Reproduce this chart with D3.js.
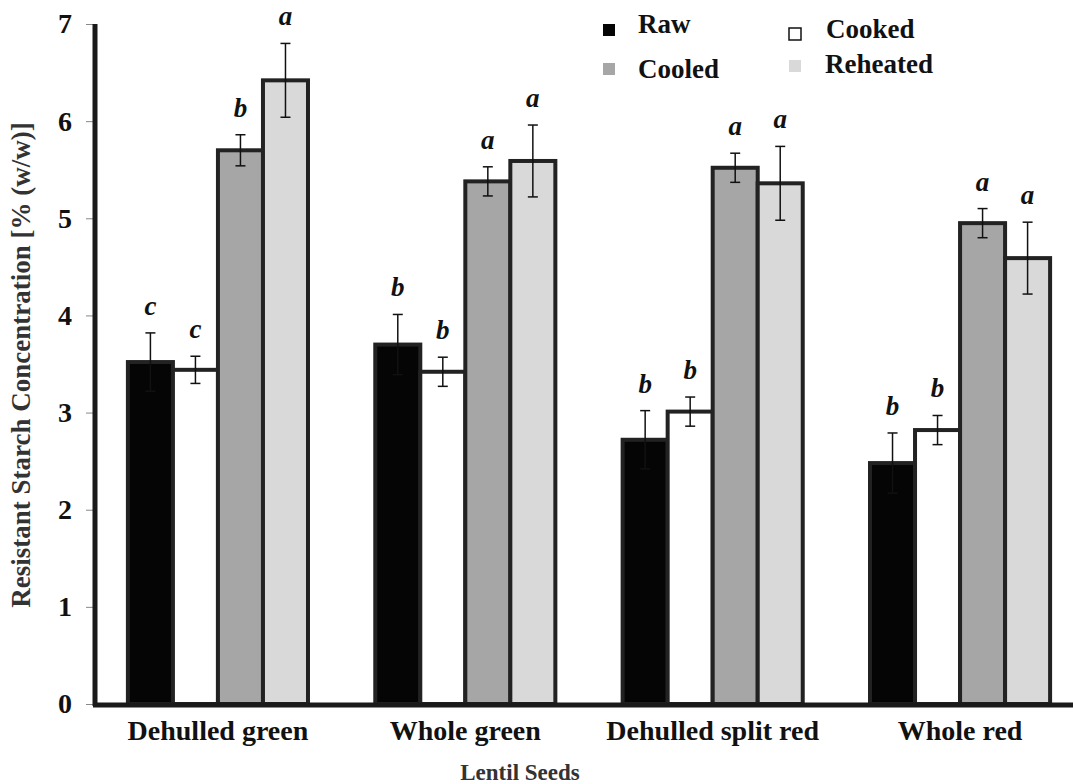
<!DOCTYPE html>
<html>
<head>
<meta charset="utf-8">
<script src="https://cdn.jsdelivr.net/npm/d3@7"></script>
<style>
  body { margin: 0; background: #fff; }
  svg text { font-family: "Liberation Serif", "Times New Roman", serif; font-weight: bold; }
</style>
</head>
<body>
<div id="chart"></div>
<script>
// Lentil seed types on the x axis
const categories = ["Dehulled green", "Whole green", "Dehulled split red", "Whole red"];
// Treatments drawn inside each group
const series = ["Raw", "Cooked", "Cooled", "Reheated"];

// Resistant starch values, one array per treatment (same order as categories)
const rawValues      = [3.52, 3.70, 2.72, 2.48];
const cookedValues   = [3.44, 3.42, 3.01, 2.82];
const cooledValues   = [5.70, 5.38, 5.52, 4.95];
const reheatedValues = [6.42, 5.59, 5.36, 4.59];

// Error bar half widths
const rawErrors      = [0.30, 0.31, 0.30, 0.31];
const cookedErrors   = [0.14, 0.15, 0.15, 0.15];
const cooledErrors   = [0.16, 0.15, 0.15, 0.15];
const reheatedErrors = [0.38, 0.37, 0.38, 0.37];

// Significance letters
const rawLetters      = ["c", "b", "b", "b"];
const cookedLetters   = ["c", "b", "b", "b"];
const cooledLetters   = ["b", "a", "a", "a"];
const reheatedLetters = ["a", "a", "a", "a"];

const yTicks = [0, 1, 2, 3, 4, 5, 6, 7];

// We build one row per bar from the arrays above
const valueSets = [rawValues, cookedValues, cooledValues, reheatedValues];
const errorSets = [rawErrors, cookedErrors, cooledErrors, reheatedErrors];
const letterSets = [rawLetters, cookedLetters, cooledLetters, reheatedLetters];
const rows = [];
categories.forEach((cat, i) => {
    series.forEach((s, j) => {
        rows.push({ category: cat, series: s, value: valueSets[j][i], error: errorSets[j][i], letter: letterSets[j][i] });
    });
});

const colors = { Raw: "#050505", Cooked: "#ffffff", Cooled: "#a6a6a6", Reheated: "#d9d9d9" };

const width = 1073, height = 784;
const svg = d3.select("#chart").append("svg")
    .attr("width", width)
    .attr("height", height);

const axisX = 95;

// Scales
const x0 = d3.scaleBand()
    .domain(categories)
    .range([axisX, 1083])
    .paddingInner(0.272)
    .paddingOuter(0.133);

const x1 = d3.scaleBand()
    .domain(series)
    .range([0, x0.bandwidth()]);

const y = d3.scaleLinear()
    .domain([0, 7])
    .range([704, 24]);

// Bars
svg.append("g").selectAll("rect")
    .data(rows)
    .enter()
    .append("rect")
    .attr("x", d => x0(d.category) + x1(d.series))
    .attr("y", d => y(d.value))
    .attr("width", x1.bandwidth())
    .attr("height", d => y(0) - y(d.value))
    .attr("fill", d => colors[d.series])
    .attr("stroke", "#222")
    .attr("stroke-width", 4);

// Error bars
const err = svg.append("g").attr("stroke", "#111").attr("stroke-width", 1.5);
rows.forEach(d => {
    const cx = x0(d.category) + x1(d.series) + x1.bandwidth() / 2;
    const top = y(d.value + d.error), bot = y(d.value - d.error);
    err.append("line").attr("x1", cx).attr("x2", cx).attr("y1", top).attr("y2", bot);
    err.append("line").attr("x1", cx - 5).attr("x2", cx + 5).attr("y1", top).attr("y2", top);
    err.append("line").attr("x1", cx - 5).attr("x2", cx + 5).attr("y1", bot).attr("y2", bot);
});

// Significance letters
svg.append("g").selectAll("text")
    .data(rows)
    .enter()
    .append("text")
    .attr("x", d => x0(d.category) + x1(d.series) + x1.bandwidth() / 2)
    .attr("y", d => y(d.value + d.error) - 18)
    .attr("text-anchor", "middle")
    .attr("font-size", 27)
    .attr("font-style", "italic")
    .attr("fill", "#111")
    .text(d => d.letter);

// Y axis
const yAxis = svg.append("g")
    .attr("transform", `translate(${axisX - 2},0)`)
    .call(d3.axisLeft(y).tickValues(yTicks).tickSize(7).tickPadding(14).tickFormat(d3.format("d")));
yAxis.select(".domain").remove();
yAxis.selectAll(".tick line").attr("stroke", "#888").attr("stroke-width", 1);
yAxis.selectAll(".tick text").attr("font-size", 28).attr("fill", "#111")
    .attr("font-family", "Liberation Serif, serif").attr("font-weight", "bold");

svg.append("line")
    .attr("x1", axisX).attr("x2", axisX)
    .attr("y1", y(7)).attr("y2", y(0) + 2)
    .attr("stroke", "#1a1a1a").attr("stroke-width", 5);

// X axis
svg.append("line")
    .attr("x1", axisX - 2).attr("x2", width)
    .attr("y1", y(0) + 1).attr("y2", y(0) + 1)
    .attr("stroke", "#1a1a1a").attr("stroke-width", 5);

svg.append("g").selectAll("text")
    .data(categories)
    .enter()
    .append("text")
    .attr("x", d => x0(d) + x0.bandwidth() / 2)
    .attr("y", 740)
    .attr("text-anchor", "middle")
    .attr("font-size", 28)
    .attr("fill", "#111")
    .text(d => d);

// Axis titles
svg.append("text")
    .attr("x", 520).attr("y", 780)
    .attr("text-anchor", "middle")
    .attr("font-size", 23)
    .attr("fill", "#333")
    .text("Lentil Seeds");

svg.append("text")
    .attr("transform", "translate(30,365) rotate(-90)")
    .attr("text-anchor", "middle")
    .attr("font-size", 27)
    .attr("fill", "#333")
    .text("Resistant Starch Concentration [% (w/w)]");

// Legend
const legendPos = [
    { sx: 603, sy: 24, tx: 638, ty: 33 },
    { sx: 789, sy: 28, tx: 826, ty: 38 },
    { sx: 603, sy: 63, tx: 638, ty: 78 },
    { sx: 789, sy: 60, tx: 825, ty: 73 }
];
const legend = svg.append("g");
series.forEach((s, i) => {
    const p = legendPos[i];
    legend.append("rect")
        .attr("x", p.sx).attr("y", p.sy)
        .attr("width", 12).attr("height", 12)
        .attr("fill", colors[s])
        .attr("stroke", s === "Cooked" ? "#111" : "none")
        .attr("stroke-width", 1.5);
    legend.append("text")
        .attr("x", p.tx).attr("y", p.ty)
        .attr("font-size", 27)
        .attr("fill", "#111")
        .text(s);
});
</script>
</body>
</html>
